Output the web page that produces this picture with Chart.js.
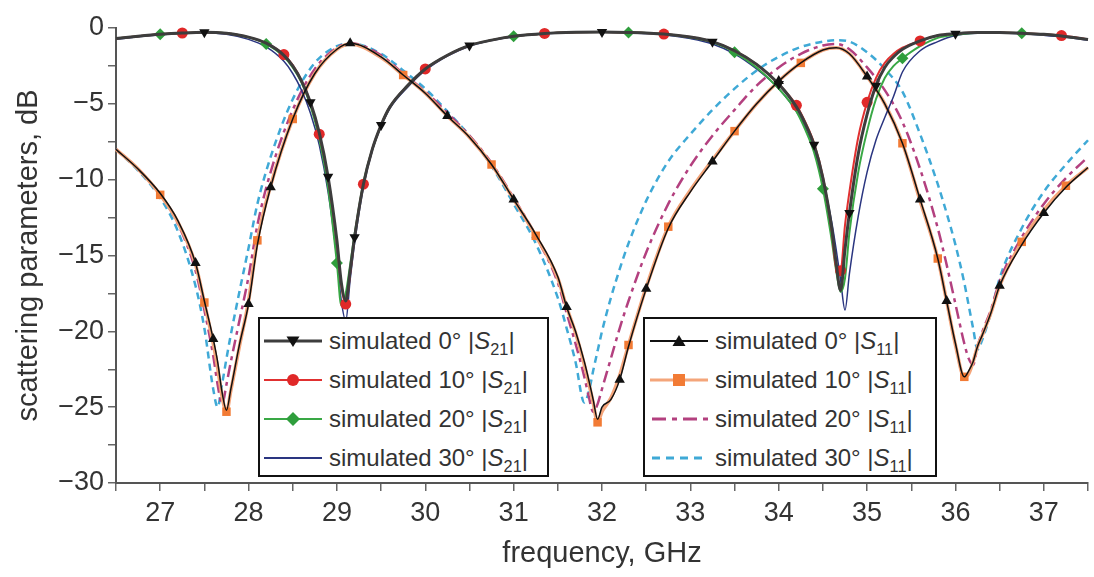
<!DOCTYPE html>
<html>
<head>
<meta charset="utf-8">
<script src="https://cdn.jsdelivr.net/npm/chart.js@4.4.1/dist/chart.umd.min.js"></script>
<style>
  html, body { margin: 0; padding: 0; background: #fff; }
  #wrap { position: relative; width: 1094px; height: 577px; font-family: "Liberation Sans", Arial, sans-serif; }
  #chart { position: absolute; left: 0; top: 0; }
  .legend { position: absolute; top: 317px; height: 160px; border: 2px solid #111; background: #fff; box-sizing: border-box; padding-top: 2px; }
  .row { height: 39px; display: flex; align-items: center; }
  .row svg { flex: none; }
  .row span { font-size: 24px; color: #333; white-space: nowrap; margin-left: 7px; }
  .row sub { font-size: 0.68em; vertical-align: -0.35em; line-height: 0; }
</style>
</head>
<body>
<div id="wrap">
  <canvas id="chart" width="1094" height="577"></canvas>

  <div class="legend" style="left:258px; width:291px; padding-left:4px;">
    <div class="row">
      <svg width="58" height="24"><line x1="0" y1="12" x2="58" y2="12" stroke="#3d3d3d" stroke-width="3"/><polygon points="22.5,7.5 35.5,7.5 29,18" fill="#111"/></svg>
      <span>simulated 0° |<i>S</i><sub>21</sub>|</span>
    </div>
    <div class="row">
      <svg width="58" height="24"><line x1="0" y1="12" x2="58" y2="12" stroke="#e03030" stroke-width="2"/><circle cx="29" cy="12" r="6" fill="#e02828"/></svg>
      <span>simulated 10° |<i>S</i><sub>21</sub>|</span>
    </div>
    <div class="row">
      <svg width="58" height="24"><line x1="0" y1="12" x2="58" y2="12" stroke="#39a845" stroke-width="2"/><polygon points="29,5 36,12 29,19 22,12" fill="#2f9e3c"/></svg>
      <span>simulated 20° |<i>S</i><sub>21</sub>|</span>
    </div>
    <div class="row">
      <svg width="58" height="24"><line x1="0" y1="12" x2="58" y2="12" stroke="#2a3580" stroke-width="2"/></svg>
      <span>simulated 30° |<i>S</i><sub>21</sub>|</span>
    </div>
  </div>

  <div class="legend" style="left:643px; width:294px; padding-left:5px;">
    <div class="row">
      <svg width="58" height="24"><line x1="0" y1="12" x2="58" y2="12" stroke="#111" stroke-width="2"/><polygon points="22.5,17 35.5,17 29,6" fill="#111"/></svg>
      <span>simulated 0° |<i>S</i><sub>11</sub>|</span>
    </div>
    <div class="row">
      <svg width="58" height="24"><line x1="0" y1="12" x2="58" y2="12" stroke="#f4a57a" stroke-width="3"/><rect x="23" y="6" width="12" height="12" fill="#f27b35"/></svg>
      <span>simulated 10° |<i>S</i><sub>11</sub>|</span>
    </div>
    <div class="row">
      <svg width="58" height="24"><line x1="2" y1="12" x2="58" y2="12" stroke="#b3407f" stroke-width="3" stroke-dasharray="14,6,5,6"/></svg>
      <span>simulated 20° |<i>S</i><sub>11</sub>|</span>
    </div>
    <div class="row">
      <svg width="58" height="24"><line x1="2" y1="12" x2="58" y2="12" stroke="#3fa9d6" stroke-width="3" stroke-dasharray="8,6"/></svg>
      <span>simulated 30° |<i>S</i><sub>11</sub>|</span>
    </div>
  </div>
</div>

<script>
// frequency grid for the transmission curves (GHz)
const s21Freq = [26.5, 26.75, 27, 27.25, 27.5, 27.75, 28, 28.2, 28.4, 28.5,
  28.6, 28.7, 28.8, 28.9, 29, 29.05, 29.1, 29.15, 29.2, 29.3,
  29.4, 29.5, 29.6, 29.8, 30, 30.25, 30.5, 30.75, 31, 31.35,
  31.7, 32, 32.3, 32.7, 33, 33.25, 33.5, 33.75, 34, 34.2,
  34.3, 34.4, 34.5, 34.6, 34.65, 34.7, 34.75, 34.8, 34.9, 35,
  35.1, 35.2, 35.3, 35.4, 35.6, 35.8, 36, 36.25, 36.5, 36.75,
  37, 37.2, 37.5];

// |S21| in dB
const s21_0deg = [-0.7, -0.55, -0.42, -0.33, -0.28, -0.35, -0.6, -1.0, -1.8, -2.5,
  -3.5, -4.9, -6.9, -9.8, -14.0, -16.8, -18.0, -16.0, -13.8, -10.3,
  -8.0, -6.4, -5.2, -3.8, -2.7, -1.8, -1.15, -0.8, -0.55, -0.36,
  -0.28, -0.26, -0.29, -0.4, -0.6, -0.9, -1.5, -2.4, -3.7, -5.2,
  -6.3, -7.7, -9.9, -13.2, -15.5, -17.3, -14.6, -12.2, -8.3, -5.7,
  -3.8, -2.6, -1.9, -1.4, -0.85, -0.5, -0.38, -0.3, -0.3, -0.35,
  -0.42, -0.52, -0.75];
const s21_10deg = [-0.7, -0.55, -0.42, -0.33, -0.28, -0.35, -0.6, -1.0, -1.75, -2.45,
  -3.45, -4.9, -7.0, -9.9, -14.2, -17.0, -18.2, -16.2, -13.8, -10.3,
  -8.0, -6.4, -5.2, -3.8, -2.7, -1.8, -1.15, -0.8, -0.55, -0.36,
  -0.28, -0.26, -0.29, -0.4, -0.6, -0.9, -1.5, -2.4, -3.7, -5.1,
  -6.2, -7.6, -9.8, -13.4, -15.8, -16.0, -13.0, -10.8, -7.2, -4.9,
  -3.3, -2.3, -1.7, -1.3, -0.85, -0.5, -0.38, -0.3, -0.3, -0.35,
  -0.42, -0.5, -0.75];
const s21_20deg = [-0.7, -0.55, -0.42, -0.33, -0.28, -0.35, -0.62, -1.05, -1.9, -2.6,
  -3.6, -5.1, -7.3, -10.5, -15.5, -18.3, -17.5, -15.6, -13.6, -10.2,
  -8.0, -6.4, -5.2, -3.8, -2.7, -1.8, -1.15, -0.8, -0.55, -0.36,
  -0.28, -0.26, -0.29, -0.4, -0.62, -0.95, -1.6, -2.6, -4.0, -5.5,
  -6.7, -8.2, -10.6, -14.0, -16.0, -17.4, -16.5, -13.5, -9.5, -6.8,
  -4.7, -3.3, -2.5, -2.0, -1.2, -0.65, -0.45, -0.32, -0.3, -0.35,
  -0.42, -0.52, -0.75];
const s21_30deg = [-0.75, -0.58, -0.45, -0.36, -0.32, -0.42, -0.75, -1.25, -2.2, -3.0,
  -4.1, -5.6, -7.7, -10.8, -15.2, -18.0, -19.3, -16.6, -14.2, -10.5,
  -8.1, -6.5, -5.3, -3.9, -2.8, -1.85, -1.2, -0.82, -0.57, -0.38,
  -0.3, -0.28, -0.32, -0.45, -0.7, -1.05, -1.7, -2.7, -4.0, -5.5,
  -6.6, -8.0, -10.0, -12.8, -14.6, -16.6, -18.6, -16.2, -12.4, -9.5,
  -7.4, -5.9, -4.5, -2.9, -1.5, -0.9, -0.5, -0.35, -0.33, -0.38,
  -0.48, -0.58, -0.8];

// frequency grid for the reflection curves (GHz)
const s11Freq = [26.5, 26.75, 27, 27.2, 27.4, 27.5, 27.6, 27.65, 27.7, 27.75,
  27.8, 27.9, 28, 28.1, 28.25, 28.5, 28.75, 29, 29.15, 29.5,
  29.75, 30, 30.25, 30.5, 30.75, 31, 31.25, 31.5, 31.6, 31.7,
  31.8, 31.85, 31.9, 31.95, 32, 32.1, 32.2, 32.3, 32.5, 32.75,
  33, 33.25, 33.5, 33.75, 34, 34.25, 34.5, 34.65, 34.8, 35,
  35.2, 35.4, 35.6, 35.8, 35.9, 36, 36.1, 36.15, 36.2, 36.25,
  36.3, 36.4, 36.5, 36.75, 37, 37.25, 37.5];

// |S11| in dB
const s11_0deg = [-8.0, -9.3, -10.9, -12.7, -15.5, -18.0, -20.5, -22.0, -24.0, -25.2,
  -23.8, -20.8, -18.2, -14.3, -10.5, -6.0, -3.0, -1.4, -1.0, -1.9,
  -3.1, -4.3, -5.8, -7.2, -9.0, -11.3, -13.6, -16.4, -18.4, -20.0,
  -22.0, -23.2, -24.5, -25.8, -25.0, -24.5, -23.2, -21.0, -17.2, -13.2,
  -10.8, -8.8, -6.8, -5.0, -3.5, -2.3, -1.45, -1.3, -1.7, -3.2,
  -5.0, -7.6, -11.3, -15.2, -18.0, -20.8, -23.0, -22.6, -22.0, -21.0,
  -20.3, -18.8, -17.0, -14.3, -12.2, -10.5, -9.2];
const s11_10deg = [-8.0, -9.3, -11.0, -12.8, -15.6, -18.1, -20.8, -22.4, -24.3, -25.3,
  -23.9, -20.9, -18.0, -14.0, -10.4, -6.0, -3.0, -1.4, -1.05, -1.95,
  -3.1, -4.3, -5.8, -7.2, -9.0, -11.3, -13.7, -16.5, -18.4, -20.1,
  -22.2, -23.4, -24.7, -26.0, -25.3, -24.4, -22.9, -20.9, -17.1, -13.1,
  -10.7, -8.7, -6.8, -5.0, -3.5, -2.3, -1.45, -1.3, -1.7, -3.2,
  -5.0, -7.6, -11.4, -15.2, -18.0, -20.9, -23.0, -22.8, -22.0, -21.0,
  -20.3, -18.8, -17.0, -14.1, -12.0, -10.4, -9.2];
const s11_20deg = [-8.0, -9.3, -11.0, -12.9, -16.0, -18.6, -21.6, -23.5, -24.8, -23.5,
  -22.0, -19.2, -16.4, -13.0, -9.5, -5.4, -2.7, -1.3, -1.0, -1.8,
  -3.0, -4.2, -5.6, -7.1, -8.9, -11.2, -13.7, -16.8, -18.8, -20.8,
  -23.0, -24.3, -25.3, -24.8, -23.8, -21.8, -19.8, -18.0, -14.8, -11.6,
  -9.1, -7.1, -5.4, -3.8, -2.6, -1.7, -1.15, -1.05, -1.4, -2.6,
  -4.1, -6.2, -9.3, -13.2, -15.6, -18.2, -20.8, -21.8, -22.2, -21.0,
  -20.1, -18.6, -16.7, -13.8, -11.6, -9.9, -8.5];
const s11_30deg = [-8.0, -9.4, -11.2, -13.4, -17.0, -19.8, -23.8, -25.0, -23.5, -21.8,
  -20.2, -17.3, -14.5, -11.6, -8.5, -4.7, -2.3, -1.2, -1.0, -1.7,
  -2.8, -4.0, -5.5, -7.1, -9.1, -11.6, -14.2, -17.8, -19.8, -22.0,
  -24.7, -24.0, -22.6, -21.3, -20.0, -17.8, -15.9, -14.2, -11.4, -8.8,
  -7.0, -5.4, -4.0, -2.8, -1.9, -1.25, -0.9, -0.8, -0.9, -1.6,
  -2.7, -4.2, -7.0, -10.3, -12.2, -14.3, -16.8, -18.3, -19.8, -21.2,
  -20.6, -18.8, -16.5, -13.2, -10.8, -9.0, -7.4];

// frequencies where markers sit on each marked curve
const s21Marks0 = [27.5, 28.7, 28.9, 29.2, 29.5, 30.5, 32, 33.25, 34, 34.4, 34.8, 35.1, 36];
const s21Marks10 = [27.25, 28.4, 28.8, 29.1, 29.3, 30, 31.35, 32.7, 34.2, 34.7, 35, 35.6, 37.2];
const s21Marks20 = [27, 28.2, 29, 31, 32.3, 33.5, 34.5, 35.4, 36.75];
const s11Marks0 = [27.4, 27.6, 28, 28.25, 29.15, 30.25, 31, 31.6, 32.2, 32.5, 33.25, 34, 35, 35.6, 35.9, 36.5, 37];
const s11Marks10 = [27, 27.5, 27.75, 28.1, 28.5, 29.75, 30.75, 31.25, 31.95, 32.3, 32.75, 33.5, 34.25, 35.4, 35.8, 36.1, 36.75, 37.25];

function pts(freq, vals) {
  if (freq.length !== vals.length) throw new Error('length mismatch ' + freq.length + ' vs ' + vals.length);
  return freq.map((f, i) => ({ x: f, y: vals[i] }));
}

function markerRadius(list, r) {
  return function(ctx) {
    const x = ctx.raw ? ctx.raw.x : null;
    return list.some(m => Math.abs(m - x) < 1e-6) ? r : 0;
  };
}

const base = {
  cubicInterpolationMode: 'monotone',
  pointRadius: 0,
  pointBorderWidth: 0,
  clip: 12
};

const datasets = [
  Object.assign({}, base, {
    label: 'simulated 0° |S11|', data: pts(s11Freq, s11_0deg),
    borderColor: '#111', borderWidth: 1.5,
    pointStyle: 'triangle', pointRadius: markerRadius(s11Marks0, 6),
    pointBackgroundColor: '#111', pointBorderColor: '#111'
  }),
  Object.assign({}, base, {
    label: 'simulated 0° |S21|', data: pts(s21Freq, s21_0deg),
    borderColor: '#3d3d3d', borderWidth: 3,
    pointStyle: 'triangle', pointRotation: 180, pointRadius: markerRadius(s21Marks0, 6),
    pointBackgroundColor: '#111', pointBorderColor: '#111'
  }),
  Object.assign({}, base, {
    label: 'simulated 10° |S21|', data: pts(s21Freq, s21_10deg),
    borderColor: '#e03030', borderWidth: 2,
    pointStyle: 'circle', pointRadius: markerRadius(s21Marks10, 5.5),
    pointBackgroundColor: '#e02828', pointBorderColor: '#e02828'
  }),
  Object.assign({}, base, {
    label: 'simulated 20° |S21|', data: pts(s21Freq, s21_20deg),
    borderColor: '#39a845', borderWidth: 2,
    pointStyle: 'rectRot', pointRadius: markerRadius(s21Marks20, 6),
    pointBackgroundColor: '#2f9e3c', pointBorderColor: '#2f9e3c'
  }),
  Object.assign({}, base, {
    label: 'simulated 30° |S21|', data: pts(s21Freq, s21_30deg),
    borderColor: '#2a3580', borderWidth: 1.5
  }),
  Object.assign({}, base, {
    label: 'simulated 10° |S11|', data: pts(s11Freq, s11_10deg),
    borderColor: '#f4a57a', borderWidth: 3.5,
    pointStyle: 'rect', pointRadius: markerRadius(s11Marks10, 6),
    pointBackgroundColor: '#f27b35', pointBorderColor: '#f27b35'
  }),
  Object.assign({}, base, {
    label: 'simulated 20° |S11|', data: pts(s11Freq, s11_20deg),
    borderColor: '#b3407f', borderWidth: 2.5, borderDash: [12, 5, 4, 5]
  }),
  Object.assign({}, base, {
    label: 'simulated 30° |S11|', data: pts(s11Freq, s11_30deg),
    borderColor: '#3fa9d6', borderWidth: 2.5, borderDash: [7, 5]
  })
];

const tickFont = { family: '"Liberation Sans", Arial, sans-serif', size: 27 };
const titleFont = { family: '"Liberation Sans", Arial, sans-serif', size: 29 };

new Chart(document.getElementById('chart').getContext('2d'), {
  type: 'line',
  data: { datasets: datasets },
  options: {
    responsive: false,
    animation: false,
    events: [],
    layout: { padding: { top: 28, right: 6, left: 0, bottom: 0 } },
    plugins: { legend: { display: false }, tooltip: { enabled: false } },
    scales: {
      x: {
        type: 'linear', min: 26.5, max: 37.5,
        afterFit: function(scale) { scale.height = 94; },
        border: { display: true, color: '#555', width: 2 },
        grid: { drawOnChartArea: false, drawTicks: true, tickLength: 8, color: '#666', lineWidth: 1.5 },
        ticks: {
          stepSize: 0.5, autoSkip: false, maxRotation: 0, padding: 6,
          color: '#333', font: tickFont,
          callback: function(v) { return Math.abs(v - Math.round(v)) < 1e-6 ? String(Math.round(v)) : ''; }
        },
        title: { display: true, text: 'frequency, GHz', color: '#333', font: titleFont, padding: { top: 0, bottom: 6 } }
      },
      y: {
        min: -30, max: 0,
        afterFit: function(scale) { scale.width = 116; },
        border: { display: true, color: '#555', width: 2 },
        grid: { drawOnChartArea: false, drawTicks: true, tickLength: 8, color: '#666', lineWidth: 1.5 },
        ticks: {
          stepSize: 2.5, padding: 4, color: '#333', font: tickFont,
          callback: function(v) { return v % 5 === 0 ? String(v).replace('-', '\u2212') : ''; }
        },
        title: { display: true, text: 'scattering parameters, dB', color: '#333', font: titleFont, padding: { top: 12, bottom: 0 } }
      }
    }
  }
});
</script>
</body>
</html>
